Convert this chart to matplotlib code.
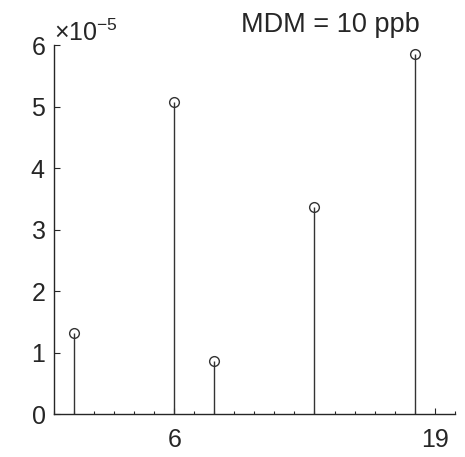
import matplotlib
matplotlib.use("Agg")
import matplotlib.pyplot as plt
from matplotlib.ticker import MultipleLocator, ScalarFormatter

# stem positions and heights
positions = [1, 6, 8, 13, 18]
values = [1.32e-5, 5.07e-5, 0.87e-5, 3.37e-5, 5.85e-5]
xticks = [6, 19]
yticks = [0, 1e-5, 2e-5, 3e-5, 4e-5, 5e-5, 6e-5]
title = "MDM = 10 ppb"

plt.rcParams['font.family'] = ['Liberation Sans', 'DejaVu Sans']
plt.rcParams['mathtext.fontset'] = 'custom'
plt.rcParams['mathtext.rm'] = 'Liberation Sans'
plt.rcParams['mathtext.it'] = 'Liberation Sans'
plt.rcParams['axes.unicode_minus'] = False

tc = '#262626'
fig = plt.figure(figsize=(4.65, 4.57), dpi=100)
ax = fig.add_axes([0.116, 0.094, 0.862, 0.8075])

markerline, stemlines, baseline = ax.stem(positions, values, basefmt=' ')
plt.setp(stemlines, color='#333333', linewidth=1.0)
plt.setp(markerline, marker='o', markersize=7, markerfacecolor='none',
         markeredgecolor='#333333', markeredgewidth=1.0)

ax.set_xlim(0, 20)
ax.set_ylim(0, 6e-5)
ax.set_xticks(xticks)
ax.xaxis.set_minor_locator(MultipleLocator(1))
ax.set_yticks(yticks)

fmt = ScalarFormatter(useMathText=True)
fmt.set_powerlimits((-3, 3))
ax.yaxis.set_major_formatter(fmt)
ax.yaxis.get_offset_text().set_fontsize(18)
ax.yaxis.get_offset_text().set_color(tc)

for side in ['top', 'right']:
    ax.spines[side].set_visible(False)
for side in ['left', 'bottom']:
    ax.spines[side].set_color(tc)
    ax.spines[side].set_linewidth(1.0)

ax.tick_params(which='major', direction='in', length=4, width=0.8,
               colors=tc, labelsize=18)
ax.tick_params(axis='y', which='major', pad=6)
ax.tick_params(axis='x', which='major', pad=10)
ax.tick_params(which='minor', direction='in', length=2.5, width=0.8, colors=tc)
ax.tick_params(axis='y', which='minor', left=False)

fig.text(0.711, 0.930, title, fontsize=19.5, color=tc, ha='center', va='baseline')

fig.savefig('out.png', dpi=100)
